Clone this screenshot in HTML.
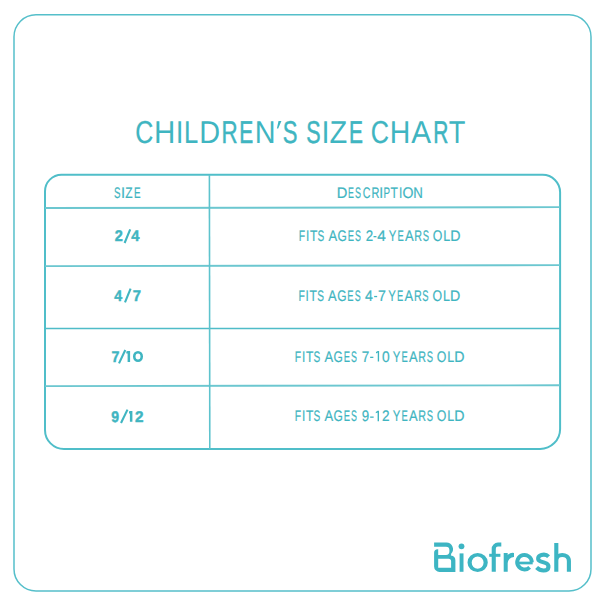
<!DOCTYPE html>
<html>
<head>
<meta charset="utf-8">
<style>
html,body{margin:0;padding:0;background:#fff;}
body{width:600px;height:600px;position:relative;overflow:hidden;font-family:"Liberation Sans",sans-serif;}
svg{position:absolute;left:0;top:0;}
text{font-family:"Liberation Sans",sans-serif;fill:#3fb5c1;}
.b{font-weight:bold;font-size:15.5px;}
.r{font-size:15.3px;}
</style>
</head>
<body>
<svg width="600" height="600" viewBox="0 0 600 600" style="text-rendering:geometricPrecision">
  <rect x="14" y="14.75" width="577" height="576.25" rx="22" fill="none" stroke="#55bfca" stroke-width="1.5"/>
  <path d="M61.5,174.8 H542.6 A17.5,17.5 0 0 1 560.1,192.3 V428.9 A20,20 0 0 1 540.1,448.9 H64 A19,19 0 0 1 45,429.9 V191.3 A16.5,16.5 0 0 1 61.5,174.8 Z" fill="none" stroke="#50bec9" stroke-width="2"/>
  <g stroke="#6cc7d0" stroke-width="1.9" fill="none">
    <line x1="45" y1="208.03" x2="560" y2="207.17"/>
    <line x1="45" y1="266.13" x2="560" y2="265.16"/>
    <line x1="45" y1="328.5" x2="560" y2="328.5" stroke="#4fbcc8" stroke-width="1.6"/>
    <line x1="45" y1="386.13" x2="560" y2="385.27"/>
    <line x1="209.4" y1="175" x2="209.8" y2="449" stroke="#5ec3cd" stroke-width="1.6"/>
  </g>

  <!-- title -->
  <g font-size="31.6">
<text x="0" y="142.75" transform="matrix(0.7896,0,0,1,135.232,0)" stroke="#3fb5c1" stroke-width="0.25">C</text>
<text x="0" y="142.75" transform="matrix(0.9348,0,0,1,153.977,0)">H</text>
<text x="0" y="142.75" transform="matrix(0.8822,0,0,1,175.627,0)">I</text>
<text x="0" y="142.75" transform="matrix(0.8066,0,0,1,183.990,0)" stroke="#3fb5c1" stroke-width="0.2">L</text>
<text x="0" y="142.75" transform="matrix(0.9136,0,0,1,199.232,0)">D</text>
<text x="0" y="142.75" transform="matrix(0.7082,0,0,1,221.420,0)" stroke="#3fb5c1" stroke-width="0.44">R</text>
<text x="0" y="142.75" transform="matrix(0.6623,0,0,1,239.362,0)" stroke="#3fb5c1" stroke-width="0.54">E</text>
<text x="0" y="142.75" transform="matrix(0.9121,0,0,1,254.836,0)">N</text>
<path d="M278.5,121 L281.4,121 L278.2,128.4 L276.9,128.4 Z" fill="#3fb5c1"/>
<text x="0" y="142.75" transform="matrix(0.6970,0,0,1,282.860,0)" stroke="#3fb5c1" stroke-width="0.46">S</text>
<text x="0" y="142.75" transform="matrix(0.6794,0,0,1,306.195,0)" stroke="#3fb5c1" stroke-width="0.5">S</text>
<text x="0" y="142.75" transform="matrix(0.9162,0,0,1,321.528,0)">I</text>
<text x="0" y="142.75" transform="matrix(0.9184,0,0,1,329.579,0)">Z</text>
<text x="0" y="142.75" transform="matrix(0.6623,0,0,1,348.962,0)" stroke="#3fb5c1" stroke-width="0.54">E</text>
<text x="0" y="142.75" transform="matrix(0.7978,0,0,1,370.861,0)" stroke="#3fb5c1" stroke-width="0.23">C</text>
<text x="0" y="142.75" transform="matrix(0.9008,0,0,1,389.865,0)">H</text>
<text x="0" y="142.75" transform="matrix(0.9402,0,0,1,411.242,0)">A</text>
<text x="0" y="142.75" transform="matrix(0.6631,0,0,1,433.160,0)" stroke="#3fb5c1" stroke-width="0.54">R</text>
<text x="0" y="142.75" transform="matrix(0.8619,0,0,1,448.688,0)">T</text>
  </g>

  <!-- header + descriptions: per-glyph placement -->
  <g font-size="15.3" stroke="#3fb5c1" stroke-width="0.2">
<text x="0" y="240.8" transform="matrix(0.6820,0,0,1,298.844,0)">F</text>
<text x="0" y="240.8" transform="matrix(0.7709,0,0,1,305.912,0)">I</text>
<text x="0" y="240.8" transform="matrix(0.7860,0,0,1,309.930,0)">T</text>
<text x="0" y="240.8" transform="matrix(0.6585,0,0,1,317.542,0)">S</text>
<text x="0" y="240.8" transform="matrix(0.8477,0,0,1,328.375,0)">A</text>
<text x="0" y="240.8" transform="matrix(0.7809,0,0,1,337.599,0)">G</text>
<text x="0" y="240.8" transform="matrix(0.6150,0,0,1,347.628,0)">E</text>
<text x="0" y="240.8" transform="matrix(0.5790,0,0,1,355.098,0)">S</text>
<text x="0" y="240.8" transform="matrix(0.8752,0,0,1,365.627,0)">2</text>
<rect stroke="none" fill="#3fb5c1" x="373.55" y="236.00" width="2.90" height="1.3"/>
<text x="0" y="240.8" transform="matrix(1.0117,0,0,1,377.245,0)">4</text>
<text x="0" y="240.8" transform="matrix(0.7448,0,0,1,388.750,0)">Y</text>
<text x="0" y="240.8" transform="matrix(0.6150,0,0,1,397.428,0)">E</text>
<text x="0" y="240.8" transform="matrix(0.8477,0,0,1,404.875,0)">A</text>
<text x="0" y="240.8" transform="matrix(0.7045,0,0,1,414.316,0)">R</text>
<text x="0" y="240.8" transform="matrix(0.6131,0,0,1,422.774,0)">S</text>
<text x="0" y="240.8" transform="matrix(0.8043,0,0,1,432.817,0)">O</text>
<text x="0" y="240.8" transform="matrix(0.8153,0,0,1,443.277,0)">L</text>
<text x="0" y="240.8" transform="matrix(0.9270,0,0,1,450.337,0)">D</text>
<text x="0" y="300.7" transform="matrix(0.6820,0,0,1,298.444,0)">F</text>
<text x="0" y="300.7" transform="matrix(0.7709,0,0,1,305.512,0)">I</text>
<text x="0" y="300.7" transform="matrix(0.7860,0,0,1,309.530,0)">T</text>
<text x="0" y="300.7" transform="matrix(0.6585,0,0,1,317.142,0)">S</text>
<text x="0" y="300.7" transform="matrix(0.8477,0,0,1,327.975,0)">A</text>
<text x="0" y="300.7" transform="matrix(0.7809,0,0,1,337.199,0)">G</text>
<text x="0" y="300.7" transform="matrix(0.6150,0,0,1,347.228,0)">E</text>
<text x="0" y="300.7" transform="matrix(0.5790,0,0,1,354.698,0)">S</text>
<text x="0" y="300.7" transform="matrix(0.9274,0,0,1,365.124,0)">4</text>
<rect stroke="none" fill="#3fb5c1" x="374.15" y="295.90" width="3.00" height="1.3"/>
<text x="0" y="300.7" transform="matrix(0.9345,0,0,1,377.967,0)">7</text>
<text x="0" y="300.7" transform="matrix(0.7448,0,0,1,388.350,0)">Y</text>
<text x="0" y="300.7" transform="matrix(0.6150,0,0,1,397.028,0)">E</text>
<text x="0" y="300.7" transform="matrix(0.8477,0,0,1,404.475,0)">A</text>
<text x="0" y="300.7" transform="matrix(0.7045,0,0,1,413.916,0)">R</text>
<text x="0" y="300.7" transform="matrix(0.6131,0,0,1,422.374,0)">S</text>
<text x="0" y="300.7" transform="matrix(0.8043,0,0,1,432.417,0)">O</text>
<text x="0" y="300.7" transform="matrix(0.8153,0,0,1,442.877,0)">L</text>
<text x="0" y="300.7" transform="matrix(0.9270,0,0,1,449.937,0)">D</text>
<text x="0" y="361.5" transform="matrix(0.6820,0,0,1,294.844,0)">F</text>
<text x="0" y="361.5" transform="matrix(0.7709,0,0,1,301.912,0)">I</text>
<text x="0" y="361.5" transform="matrix(0.7860,0,0,1,305.930,0)">T</text>
<text x="0" y="361.5" transform="matrix(0.6585,0,0,1,313.542,0)">S</text>
<text x="0" y="361.5" transform="matrix(0.8477,0,0,1,324.375,0)">A</text>
<text x="0" y="361.5" transform="matrix(0.7809,0,0,1,333.599,0)">G</text>
<text x="0" y="361.5" transform="matrix(0.6150,0,0,1,343.628,0)">E</text>
<text x="0" y="361.5" transform="matrix(0.5790,0,0,1,351.098,0)">S</text>
<text x="0" y="361.5" transform="matrix(0.8842,0,0,1,361.756,0)">7</text>
<rect stroke="none" fill="#3fb5c1" x="370.15" y="356.70" width="3.20" height="1.3"/>
<text x="0" y="361.5" transform="matrix(0.9024,0,0,1,382.061,0)">0</text>
<text x="0" y="361.5" transform="matrix(0.7448,0,0,1,392.750,0)">Y</text>
<text x="0" y="361.5" transform="matrix(0.6150,0,0,1,401.428,0)">E</text>
<text x="0" y="361.5" transform="matrix(0.8477,0,0,1,408.875,0)">A</text>
<text x="0" y="361.5" transform="matrix(0.7045,0,0,1,418.316,0)">R</text>
<text x="0" y="361.5" transform="matrix(0.6131,0,0,1,426.774,0)">S</text>
<text x="0" y="361.5" transform="matrix(0.8043,0,0,1,436.817,0)">O</text>
<text x="0" y="361.5" transform="matrix(0.8153,0,0,1,447.277,0)">L</text>
<text x="0" y="361.5" transform="matrix(0.9270,0,0,1,454.337,0)">D</text>
<text x="0" y="421.3" transform="matrix(0.6820,0,0,1,294.844,0)">F</text>
<text x="0" y="421.3" transform="matrix(0.7709,0,0,1,301.912,0)">I</text>
<text x="0" y="421.3" transform="matrix(0.7860,0,0,1,305.930,0)">T</text>
<text x="0" y="421.3" transform="matrix(0.6585,0,0,1,313.542,0)">S</text>
<text x="0" y="421.3" transform="matrix(0.8477,0,0,1,324.375,0)">A</text>
<text x="0" y="421.3" transform="matrix(0.7809,0,0,1,333.599,0)">G</text>
<text x="0" y="421.3" transform="matrix(0.6150,0,0,1,343.628,0)">E</text>
<text x="0" y="421.3" transform="matrix(0.5790,0,0,1,351.098,0)">S</text>
<text x="0" y="421.3" transform="matrix(0.8702,0,0,1,361.826,0)">9</text>
<rect stroke="none" fill="#3fb5c1" x="370.15" y="416.50" width="3.50" height="1.3"/>
<text x="0" y="421.3" transform="matrix(0.8895,0,0,1,382.116,0)">2</text>
<text x="0" y="421.3" transform="matrix(0.7448,0,0,1,392.750,0)">Y</text>
<text x="0" y="421.3" transform="matrix(0.6150,0,0,1,401.428,0)">E</text>
<text x="0" y="421.3" transform="matrix(0.8477,0,0,1,408.875,0)">A</text>
<text x="0" y="421.3" transform="matrix(0.7045,0,0,1,418.316,0)">R</text>
<text x="0" y="421.3" transform="matrix(0.6131,0,0,1,426.774,0)">S</text>
<text x="0" y="421.3" transform="matrix(0.8043,0,0,1,436.817,0)">O</text>
<text x="0" y="421.3" transform="matrix(0.8153,0,0,1,447.277,0)">L</text>
<text x="0" y="421.3" transform="matrix(0.9270,0,0,1,454.337,0)">D</text>
<text x="0" y="197.6" transform="matrix(0.6358,0,0,1,114.008,0)">S</text>
<text x="0" y="197.6" transform="matrix(0.9461,0,0,1,121.114,0)">I</text>
<text x="0" y="197.6" transform="matrix(0.7874,0,0,1,125.318,0)">Z</text>
<text x="0" y="197.6" transform="matrix(0.6452,0,0,1,133.890,0)">E</text>
<text x="0" y="197.7" transform="matrix(0.9601,0,0,1,336.695,0)">D</text>
<text x="0" y="197.7" transform="matrix(0.5788,0,0,1,348.074,0)">E</text>
<text x="0" y="197.7" transform="matrix(0.5847,0,0,1,355.094,0)">S</text>
<text x="0" y="197.7" transform="matrix(0.6915,0,0,1,362.663,0)">C</text>
<text x="0" y="197.7" transform="matrix(0.7155,0,0,1,371.602,0)">R</text>
<text x="0" y="197.7" transform="matrix(0.9111,0,0,1,379.214,0)">I</text>
<text x="0" y="197.7" transform="matrix(0.6386,0,0,1,383.499,0)">P</text>
<text x="0" y="197.7" transform="matrix(0.7860,0,0,1,390.530,0)">T</text>
<text x="0" y="197.7" transform="matrix(0.7709,0,0,1,399.112,0)">I</text>
<text x="0" y="197.7" transform="matrix(0.9192,0,0,1,402.534,0)">O</text>
<text x="0" y="197.7" transform="matrix(0.8659,0,0,1,413.213,0)">N</text>
<path stroke="none" fill="#3fb5c1" d="M377.75,350.9 H379.1 V361.5 H377.75 V352.6 L376.0,353.4 V352.1 Z"/>
<path stroke="none" fill="#3fb5c1" d="M377.6,410.7 H379 V421.3 H377.6 V412.4 L375.8,413.2 V411.9 Z"/>
  </g>

  <!-- sizes -->
  <g font-weight="bold" font-size="15.4" stroke="#3fb5c1" stroke-width="0.45">
<text x="0" y="240.8" transform="matrix(0.9402,0,0,1,114.763,0)">2</text>
<text x="0" y="240.8" transform="matrix(0.9536,0,0,1,131.245,0)">4</text>
<text x="0" y="300.9" transform="matrix(0.9187,0,0,1,114.247,0)">4</text>
<text x="0" y="300.9" transform="matrix(0.9635,0,0,1,132.831,0)">7</text>
<text x="0" y="362" transform="matrix(0.9239,0,0,1,111.550,0)">7</text>
<text x="0" y="421.7" transform="matrix(0.9092,0,0,1,111.274,0)">9</text>
<text x="0" y="421.7" transform="matrix(0.9917,0,0,1,134.944,0)">2</text>
  </g>
  <g stroke="#3fb5c1" stroke-width="2.1" fill="none">
    <line x1="124.6" y1="243" x2="130.2" y2="229.3"/>
    <line x1="125" y1="302.4" x2="130.6" y2="288.7"/>
    <line x1="119" y1="363.4" x2="125.3" y2="350"/>
    <line x1="121" y1="423" x2="127.5" y2="409.6"/>
    <!-- 0 of 7/10 -->
    <ellipse cx="138" cy="356.5" rx="3.75" ry="4.3" stroke-width="2.55"/>
  </g>
  <g fill="#3fb5c1">
    <!-- 1 of 7/10 -->
    <path d="M127.6,351 H130.1 V362 H127.6 V353.5 H126.3 V351.5 Z"/>
    <!-- 1 of 9/12 -->
    <path d="M129.9,411 H132.4 V421.7 H129.9 V413.4 H129 V411.5 Z"/>
  </g>

  <!-- Biofresh logo -->
  <g fill="#3db5c3" stroke="none">
    <!-- B -->
    <path fill-rule="evenodd" d="M434.1,542.6 H446.5 A6.5,6.5 0 0 1 451.28,553.5 L450.9,555.5 A4.9,4.9 0 0 1 455.4,560.4 V571.9 H439.5 A5.4,5.4 0 0 1 434.1,566.5 V552.8 A3.6,3.6 0 0 1 437.7,549.2 H438.2 V555 H446 A3.4,3.4 0 0 0 449.4,551.6 V550.2 A3.4,3.4 0 0 0 446,546.8 H434.1 Z M438.2,558.8 H448.6 A2.5,2.5 0 0 1 451.1,561.3 V567.7 H438.2 Z"/>
    <!-- i -->
    <circle cx="461.5" cy="546.3" r="2.9"/>
    <rect x="459.6" y="553.4" width="3.9" height="18.4"/>
    <!-- o -->
    <path fill-rule="evenodd" d="M467.5,562.5 A10.15,9.5 0 1 0 487.8,562.5 A10.15,9.5 0 1 0 467.5,562.5 Z M471.7,562.6 A5.95,6.1 0 1 0 483.6,562.6 A5.95,6.1 0 1 0 471.7,562.6 Z"/>
    <!-- f -->
    <path d="M491.7,571.8 V548.8 A6.2,6.2 0 0 1 497.9,542.6 H501.3 V546.6 H497.9 A2.1,2.1 0 0 0 495.8,548.7 V571.8 Z"/>
    <rect x="489.2" y="553.8" width="11.2" height="3"/>
    <!-- r -->
    <path d="M503.7,571.8 V553 H507.7 V555 A7,7 0 0 1 514,553 V557 A6.3,6.3 0 0 0 507.7,563 V571.8 Z"/>
  </g>
  <g fill="none" stroke="#3db5c3" stroke-width="4.1">
    <!-- e -->
    <path d="M531.8,562.2 A7.3,7.25 0 1 0 529.66,567.33" stroke-width="3.9"/>
    <path d="M516.5,563 H532.7" stroke-width="2.7"/>
    <!-- s -->
    <path d="M548.6,556.6 C546.5,554.5 543.5,554.5 541.5,555 C537.5,556 537.0,560.2 540.5,561.4 L545.2,562.9 C549.8,564.2 549.8,570.5 543.5,570.5 C540.5,570.5 538.3,569.2 536.6,567.5"/>
    <!-- h -->
    <path d="M556.3,543 V571.8 M556.3,560.5 C556.3,556.5 559.3,555 562.2,555 C565.5,555 568.9,556.8 568.9,561 V571.8"/>
  </g>
</svg>
</body>
</html>
